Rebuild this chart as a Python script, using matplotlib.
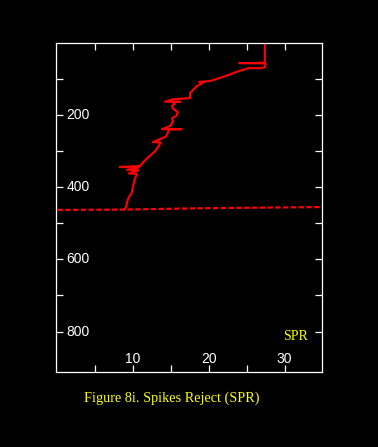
import matplotlib.pyplot as plt

# SPR profile: value vs depth (spikes included as excursions)
depth = [0, 55, 56, 57, 67, 70, 70, 74, 80, 87, 94, 100, 106, 108, 109, 120, 135,
         139, 153, 156, 163, 163, 164, 169, 175, 183, 192, 202, 209, 216, 230, 239,
         239, 240, 248, 260, 275, 276, 281, 300, 313, 331, 341, 344, 345, 352, 353,
         362, 363, 378, 415, 433, 452, 461]
value = [27.4, 27.4, 24.0, 27.5, 27.4, 26.8, 25.2, 24.6, 23.7, 22.8, 21.9, 21.0,
         20.1, 18.7, 19.3, 18.4, 17.7, 17.5, 17.5, 15.3, 14.2, 16.2, 15.2, 15.5,
         15.1, 15.3, 15.9, 15.7, 15.1, 15.3, 14.9, 13.8, 16.4, 14.7, 14.6, 14.3,
         12.6, 13.6, 13.5, 12.9, 12.2, 11.3, 10.9, 8.2, 10.8, 9.2, 10.7, 9.4,
         10.5, 10.2, 9.8, 9.3, 9.1, 8.9]

# dashed reference line
ref_x = [0, 9, 20, 35]
ref_depth = [463, 462, 458, 455]

xlabels = [10, 20, 30]
ylabels = [200, 400, 600, 800]

fig = plt.figure(figsize=(3.78, 4.47), dpi=100, facecolor='black')
ax = fig.add_axes([0.148, 0.168, 0.703, 0.736], facecolor='black')

ax.plot(value, depth, color='red', lw=1.5)
ax.plot(ref_x, ref_depth, color='red', lw=1.6, linestyle=(0, (2.4, 1.1)))

ax.set_xlim(-0.2, 34.9)
ax.set_ylim(912, 0)

for s in ax.spines.values():
    s.set_color('white')
    s.set_linewidth(0.9)

ax.set_xticks([5, 10, 15, 20, 25, 30])
ax.set_yticks(range(100, 900, 100))
ax.tick_params(direction='in', length=5, width=0.9, color='white',
               top=True, right=True, labelbottom=False, labelleft=False)

for v in xlabels:
    ax.text(v, 875, str(v), color='white', ha='center', va='center',
            family='Liberation Sans', fontsize=10)
for v in ylabels:
    ax.text(1.2, v, str(v), color='white', ha='left', va='center',
            family='Liberation Sans', fontsize=10)

ax.text(33.1, 814, 'SPR', color='yellow', ha='right', va='center',
        family='Liberation Serif', fontsize=10)

fig.text(84 / 378, 1 - 398 / 447, 'Figure 8i. Spikes Reject (SPR)', color='yellow',
         ha='left', va='center', family='Liberation Serif', fontsize=10.3)

fig.savefig('out.png', dpi=100, facecolor='black')
